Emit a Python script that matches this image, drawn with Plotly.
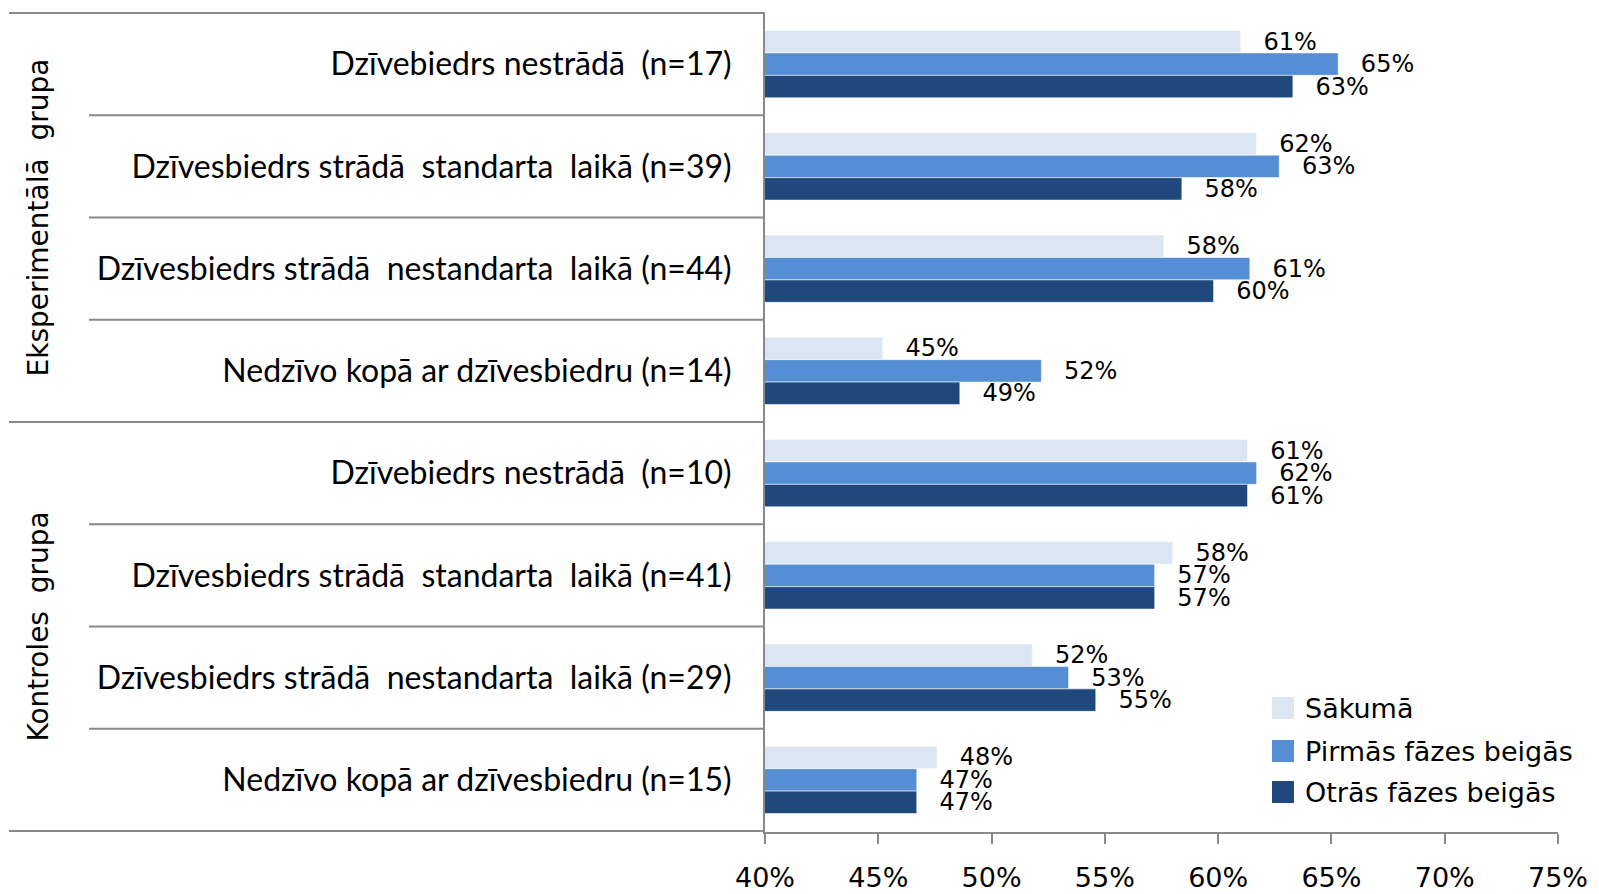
import plotly.graph_objects as go

NB = "\u00a0"

categories = [
    "Dzīvebiedrs nestrādā" + NB + " (n=17)",
    "Dzīvesbiedrs strādā" + NB + " standarta" + NB + " laikā (n=39)",
    "Dzīvesbiedrs strādā" + NB + " nestandarta" + NB + " laikā (n=44)",
    "Nedzīvo kopā ar dzīvesbiedru (n=14)",
    "Dzīvebiedrs nestrādā" + NB + " (n=10)",
    "Dzīvesbiedrs strādā" + NB + " standarta" + NB + " laikā (n=41)",
    "Dzīvesbiedrs strādā" + NB + " nestandarta" + NB + " laikā (n=29)",
    "Nedzīvo kopā ar dzīvesbiedru (n=15)",
]
groups = ["Eksperimentālā" + NB + " grupa", "Kontroles" + NB + " grupa"]
group_sizes = [4, 4]

series_names = ["Sākumā", "Pirmās fāzes beigās", "Otrās fāzes beigās"]
sakuma = [61.0, 61.7, 57.6, 45.2, 61.3, 58.0, 51.8, 47.6]
pirmas = [65.3, 62.7, 61.4, 52.2, 61.7, 57.2, 53.4, 46.7]
otras = [63.3, 58.4, 59.8, 48.6, 61.3, 57.2, 54.6, 46.7]
series_values = [sakuma, pirmas, otras]
colors = ["#DCE6F2", "#558ED5", "#1F497D"]

x_ticks = [40, 45, 50, 55, 60, 65, 70, 75]

W, H = 1599, 894
OFF = 8  # page offset of the figure inside the browser window
# target plot area in window pixels
PX0, PX1, PY0, PY1 = 765, 1558, 12, 832
L = PX0 - OFF
T = PY0 - OFF
R = W - (PX1 - OFF)
B = H - (PY1 - OFF)
plot_w = PX1 - PX0
plot_h = PY1 - PY0

def px_x(px):
    return (px - PX0) / plot_w

def px_y(py):
    return (PY1 - py) / plot_h

fig = go.Figure()

for name, vals, col in zip(series_names, series_values, colors):
    fig.add_trace(go.Bar(
        y=categories, x=vals, orientation="h", name=name,
        marker=dict(color=col, line=dict(color="rgba(255,255,255,0.6)", width=1)),
        texttemplate="\u2002" + NB + "%{x:.0f}%",
        textposition="outside",
        textfont=dict(family="DejaVu Sans", size=24, color="#000000"),
        constraintext="none",
        cliponaxis=False,
        showlegend=False,
        hoverinfo="skip",
    ))

shapes = []
line_style = dict(color="#898989", width=2)
bounds = [-0.5]
acc = -0.5
for s in group_sizes:
    acc += s
    bounds.append(acc)
for b in bounds:
    shapes.append(dict(type="line", xref="paper", yref="y",
                       x0=px_x(9), x1=0, y0=b, y1=b, line=line_style))
start = 0
for s in group_sizes:
    for k in range(1, s):
        yb = start + k - 0.5
        shapes.append(dict(type="line", xref="paper", yref="y",
                           x0=px_x(89), x1=0, y0=yb, y1=yb, line=line_style))
    start += s

annotations = []
start = 0
for g, s in zip(groups, group_sizes):
    annotations.append(dict(
        text=g, textangle=-90, xref="paper", yref="y",
        x=px_x(38), y=start + (s - 1) / 2,
        showarrow=False, xanchor="center", yanchor="middle",
        font=dict(family="DejaVu Sans", size=28, color="#000000"),
    ))
    start += s

# legend (drawn manually so the swatches can be as large as the reference)
leg_x0, leg_sw, leg_gap = 1272, 22, 9
leg_y = [708, 751, 792]
for name, col, cy in zip(series_names, colors, leg_y):
    shapes.append(dict(type="rect", xref="paper", yref="paper",
                       x0=px_x(leg_x0), x1=px_x(leg_x0 + leg_sw),
                       y0=px_y(cy + leg_sw / 2), y1=px_y(cy - leg_sw / 2),
                       fillcolor=col, line=dict(width=0)))
    annotations.append(dict(
        text=name, xref="paper", yref="paper",
        x=px_x(leg_x0 + leg_sw + leg_gap), y=px_y(cy),
        xanchor="left", yanchor="middle", showarrow=False,
        font=dict(family="DejaVu Sans", size=27, color="#000000"),
    ))

fig.update_layout(
    width=W, height=H,
    margin=dict(l=L, r=R, t=T, b=B, pad=0, autoexpand=False),
    paper_bgcolor="white", plot_bgcolor="white",
    barmode="group", bargap=0.34, bargroupgap=0,
    shapes=shapes, annotations=annotations,
    showlegend=False,
)

fig.update_xaxes(
    range=[40, 75], tickvals=x_ticks, ticktext=[f"{t}%" for t in x_ticks],
    showgrid=False, zeroline=False, automargin=False,
    showline=True, linecolor="#898989", linewidth=2,
    ticks="outside", ticklen=10, tickwidth=2, tickcolor="#898989",
    tickfont=dict(family="DejaVu Sans", size=27, color="#000000"),
    ticklabelstandoff=11,
)
fig.update_yaxes(
    autorange="reversed", type="category", automargin=False,
    showgrid=False, zeroline=False,
    showline=True, linecolor="#898989", linewidth=2,
    ticks="", ticklabelstandoff=25,
    tickfont=dict(family="Lato", size=32, color="#000000"),
)

fig.write_html("out.html")
